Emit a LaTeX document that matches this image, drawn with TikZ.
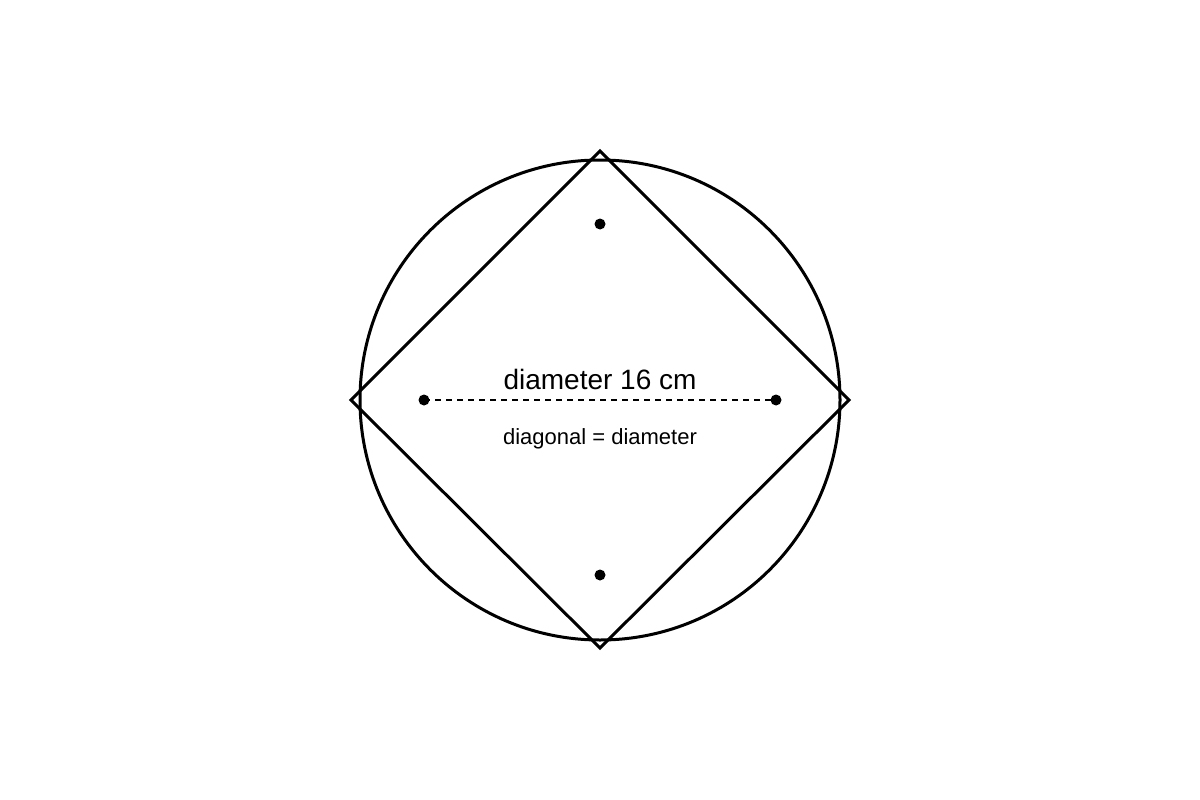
\documentclass[tikz,border=0pt]{standalone}
\usepackage{fontspec}
\setmainfont{Liberation Sans}
\begin{document}
\begin{tikzpicture}[x=1pt,y=-1pt,
  shapeline/.style={line width=3pt, line join=miter},
  dot/.style={circle, fill=black, inner sep=0pt, minimum size=11pt},
  dimline/.style={line width=1.8pt, dash pattern=on 6pt off 5pt}]
\useasboundingbox (0,0) rectangle (1200,800);
\coordinate (c) at (600,400);
\draw[shapeline] (c) circle[radius=240];
\coordinate (top) at (600,151);
\coordinate (right) at (849,400);
\coordinate (bottom) at (600,648);
\coordinate (left) at (351,400);
\draw[shapeline] (top) -- (right) -- (bottom) -- (left) -- cycle;
\node[dot] (dt) at (600,224) {};
\node[dot] (db) at (600,575) {};
\node[dot] (dl) at (424,400) {};
\node[dot] (dr) at (776,400) {};
\draw[dimline] (dl.center) -- (dr.center);
\node[font=\fontsize{28}{32}\selectfont, anchor=base] (lbl) at (600,389) {diameter 16 cm};
\node[font=\fontsize{22}{26}\selectfont, anchor=base] (sub) at (600,444) {diagonal = diameter};
\end{tikzpicture}
\end{document}
